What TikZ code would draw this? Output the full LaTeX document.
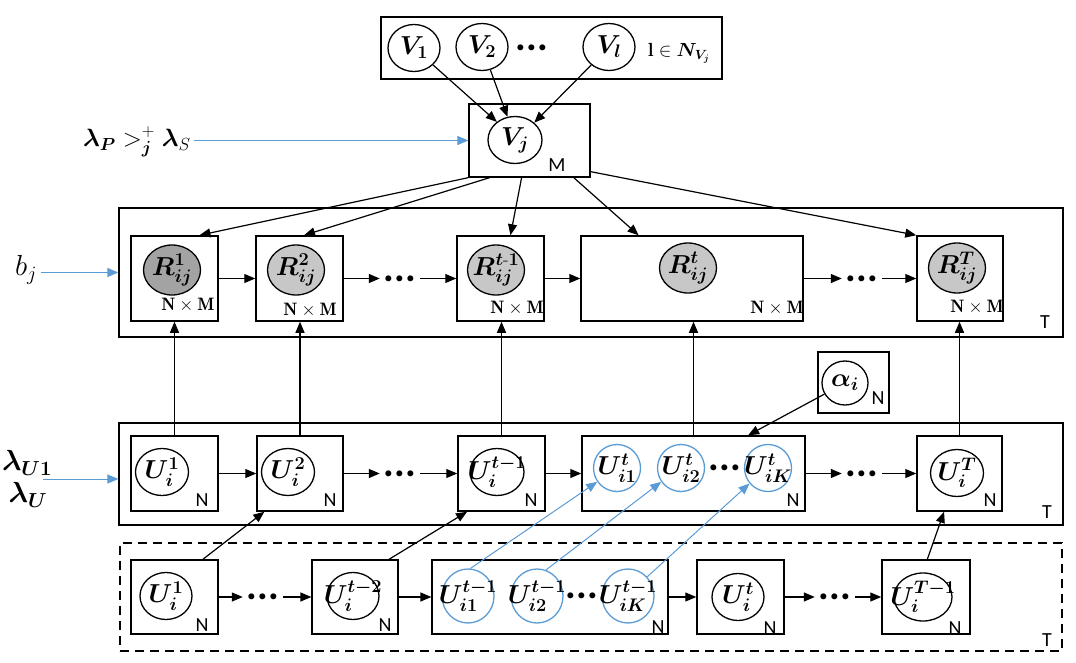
\RequirePackage{fix-cm}
\documentclass[tikz,border=0pt]{standalone}
\usepackage{amsmath,amssymb}
\usepackage{bm}
\usepackage{fontspec}
\setsansfont{Carlito}
\usetikzlibrary{shapes.geometric,arrows.meta}
\definecolor{linkblue}{HTML}{5B9BD5}
\definecolor{obsdark}{gray}{0.64}
\definecolor{obslight}{gray}{0.78}
\newcommand{\mv}[1]{\makebox[0pt]{$\bm{#1}$}}
\newcommand{\dotrow}{\textbf{\sffamily...}}

\begin{document}
\begin{tikzpicture}[x=1pt,y=-1pt,
  every node/.style={font=\fontsize{26}{30}\selectfont},
  plate/.style={draw,line width=1.3pt,rectangle,inner sep=0pt},
  box/.style={draw,line width=1.5pt,rectangle,inner sep=0pt},
  var/.style={draw,ellipse,line width=1.3pt,inner sep=0pt,minimum width=52,minimum height=47},
  obs/.style={var,fill=obslight,minimum width=57,minimum height=50},
  hid/.style={var,draw=linkblue,minimum width=47,minimum height=47},
  lab/.style={font=\fontsize{20}{22}\selectfont\sffamily,inner sep=0pt},
  dimlab/.style={font=\fontsize{18}{21}\selectfont,inner sep=0pt},
  more/.style={inner sep=4pt,font=\fontsize{40}{40}\selectfont},
  big/.style={font=\fontsize{29}{33}\selectfont},
  arr/.style={-{Triangle[length=11pt,width=9pt]},line width=1.2pt},
  link/.style={arr,draw=linkblue,line width=1pt,-{Triangle[length=11pt,width=9pt,fill=linkblue]}},
]
\useasboundingbox (0,0) rectangle (1076,663);

% neighbours of item j
\node[plate,minimum width=341,minimum height=62] (vplate) at (551.5,48) {};
\node[var] (v1) at (414,48) {\mv{V_1}};
\node[var] (v2) at (482,47) {\mv{V_2}};
\node[more] (vdots) at (532,48) {\dotrow};
\node[var] (vl) at (609,47) {\mv{V_l}};
\node[dimlab,anchor=west,font=\fontsize{19}{22}\selectfont] (vset) at (648,53) {$\mathbf{l}\in\bm{N_{V_j}}$};

% item j
\node[plate,minimum width=121,minimum height=73] (vjbox) at (529.5,140.5) {};
\node[var,minimum width=54] (vj) at (515,140) {\mv{V_j}};
\node[lab] (vjm) at (557,165) {M};
\draw[arr] (v1) -- (vj.135);
\draw[arr] (v2) -- (vj.108);
\draw[arr] (vl) -- (vj.42);

\node[big,font=\fontsize{25}{29}\selectfont] (lamp) at (137,142) {$\bm{\lambda_P} >^{+}_{\bm{j}} \bm{\lambda}_S$};
\draw[link] (lamp.east |- vjbox.west) -- (vjbox.west);

% ratings
\node[plate,minimum width=944,minimum height=129] (rplate) at (591,272.5) {};
\node[lab] (rT) at (1045,322) {T};
\node[box,minimum width=87,minimum height=85] (r1) at (174.5,278.5) {};
\node[box,minimum width=87,minimum height=85] (r2) at (299.5,278.5) {};
\node[more] (rd1) at (400,278.5) {\dotrow};
\node[box,minimum width=87,minimum height=85] (r3) at (500.5,278.5) {};
\node[box,minimum width=222,minimum height=85] (r4) at (692,278.5) {};
\node[more] (rd2) at (862,278.5) {\dotrow};
\node[box,minimum width=86,minimum height=85] (r5) at (960,278.5) {};

\node[obs,fill=obsdark] (e1) at (172,270) {\mv{R^1_{ij}}};
\node[obs] (e2) at (296,270) {\mv{R^2_{ij}}};
\node[obs] (e3) at (496,270) {\mv{R^{t\text{-}1}_{ij}}};
\node[obs] (e4) at (688,268) {\mv{R^t_{ij}}};
\node[obs] (e5) at (957,268) {\mv{R^T_{ij}}};

\node[dimlab] at (188,305) {$\mathbf{N\times M}$};
\node[dimlab] at (310,310) {$\mathbf{N\times M}$};
\node[dimlab] at (517,308) {$\mathbf{N\times M}$};
\node[dimlab] at (777,308) {$\mathbf{N\times M}$};
\node[dimlab] at (977,307) {$\mathbf{N\times M}$};

\draw[arr] (r1) -- (r2);
\draw[arr] (r2) -- (rd1);
\draw[arr] (rd1) -- (r3);
\draw[arr] (r3) -- (r4);
\draw[arr] (r4) -- (rd2);
\draw[arr] (rd2) -- (r5);

\draw[arr] (vjbox.south west) -- (r1.60);
\draw[arr] (vjbox.-137) -- (r2.84);
\draw[arr] (vjbox.-102) -- (r3.77);
\draw[arr] (vjbox.-40) -- (r4.141);
\draw[arr] (vjbox.-27) -- (r5.north west);

\node[big] (bj) at (26,270) {$b_j$};
\draw[link] (bj.east |- rplate.west) -- (rplate.west);

% user preferences at t
\node[plate,minimum width=944,minimum height=102] (uplate) at (591,474) {};
\node[lab] (uT) at (1047,512) {T};
\node[box,minimum width=87,minimum height=75] (u1) at (174.5,473.5) {};
\node[box,minimum width=86,minimum height=75] (u2) at (300,473.5) {};
\node[more] (ud1) at (400,473.5) {\dotrow};
\node[box,minimum width=87,minimum height=75] (u3) at (501.5,473.5) {};
\node[box,minimum width=223,minimum height=75] (u4) at (693.5,473.5) {};
\node[more] (ud2) at (862,473.5) {\dotrow};
\node[box,minimum width=85,minimum height=75] (u5) at (959.5,473.5) {};

\node[var,minimum width=53] (c1) at (162,472) {\mv{U^1_i}};
\node[var,minimum width=53] (c2) at (288,472) {\mv{U^2_i}};
\node[var,minimum width=54] (c3) at (497,472) {\mv{U^{t-1}_i}};
\node[hid] (c41) at (617,468) {\mv{U^t_{i1}}};
\node[hid] (c42) at (681,468) {\mv{U^t_{i2}}};
\node[more,inner sep=0pt] (c4d) at (725,468) {\dotrow};
\node[hid] (c4k) at (768,468) {\mv{U^t_{iK}}};
\node[var,minimum width=53] (c5) at (957,473) {\mv{U^T_i}};

\node[lab] at (202,500) {N};
\node[lab] at (330,500) {N};
\node[lab] at (531,500) {N};
\node[lab] at (793,500) {N};
\node[lab] at (990,500) {N};

\draw[arr] (u1) -- (u2);
\draw[arr] (u2) -- (ud1);
\draw[arr] (ud1) -- (u3);
\draw[arr] (u3) -- (u4);
\draw[arr] (u4) -- (ud2);
\draw[arr] (ud2) -- (u5);

\draw[arr] (u1.north) -- (u1.north |- r1.south);
\draw[arr] (u2.north) -- (u2.north |- r2.south);
\draw[arr] (u3.north) -- (u3.north |- r3.south);
\draw[arr] (u4.north) -- (u4.north |- r4.south);
\draw[arr] (u5.north) -- (u5.north |- r5.south);

\node[box,line width=1.3pt,minimum width=71,minimum height=61] (abox) at (853.5,382.5) {};
\node[var,minimum width=46,minimum height=44] (alpha) at (845,383) {\mv{\alpha_i}};
\node[lab] at (878,398) {N};
\draw[arr] (alpha) -- (u4.35);

\node[big] (lu1) at (27,463) {$\bm{\lambda_{U1}}$};
\node[big] (lu2) at (28,495) {$\bm{\lambda_U}$};
\coordinate (lu) at (43,479);
\draw[link] (lu) -- (lu -| uplate.west);

% user preferences at t-1
\node[plate,dash pattern=on 9pt off 6pt,minimum width=942,minimum height=108] (bplate) at (591,597) {};
\node[lab] (bT) at (1047,640) {T};
\node[box,minimum width=87,minimum height=74] (b1) at (174.5,597) {};
\node[more] (bd1) at (263,597) {\dotrow};
\node[box,line width=1.2pt,minimum width=86,minimum height=74] (b2) at (355,597) {};
\node[box,line width=1.2pt,minimum width=236,minimum height=74] (b3) at (550,597) {};
\node[box,minimum width=87,minimum height=74] (b4) at (740.5,597) {};
\node[more] (bd2) at (835,597) {\dotrow};
\node[box,minimum width=88,minimum height=74] (b5) at (926,597) {};

\node[var] (d1) at (166,596) {\mv{U^1_i}};
\node[var] (d2) at (353,596) {\mv{U^{t-2}_i}};
\node[hid,minimum width=52,minimum height=54] (d31) at (468,596) {\mv{U^{t-1}_{i1}}};
\node[hid,minimum width=52,minimum height=54] (d32) at (537,596) {\mv{U^{t-1}_{i2}}};
\node[more,inner sep=0pt] (d3d) at (582,596) {\dotrow};
\node[hid,minimum width=52,minimum height=54] (d3k) at (628,596) {\mv{U^{t-1}_{iK}}};
\node[var] (d4) at (738,597) {\mv{U^t_i}};
\node[var,minimum width=58,minimum height=48] (d5) at (923,597) {\mv{U^{T-1}_i}};

\node[lab] at (202,625) {N};
\node[lab] at (385,625) {N};
\node[lab] at (658,627) {N};
\node[lab] at (770,628) {N};
\node[lab] at (955,628) {N};

\draw[arr] (b1) -- (bd1);
\draw[arr] (bd1) -- (b2);
\draw[arr] (b2) -- (b3);
\draw[arr] (b3) -- (b4);
\draw[arr] (b4) -- (bd2);
\draw[arr] (bd2) -- (b5);

\draw[arr] (b1.53) -- (u2.-133);
\draw[arr] (b2.48) -- (u3.-132);
\draw[arr] (b5.88) -- (u5.-112);

\draw[link] (d31.85) -- (c41.215);
\draw[link] (d32.71) -- (c42.215);
\draw[link] (d3k.45) -- (c4k.220);
\end{tikzpicture}
\end{document}
